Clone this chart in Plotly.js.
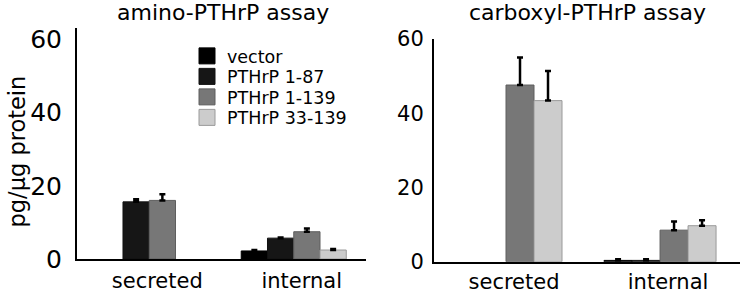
<!DOCTYPE html>
<html>
<head>
<meta charset="utf-8">
<script src="https://cdn.plot.ly/plotly-3.0.1.min.js"></script>
<style>html,body{margin:0;padding:0;background:#fff;}#chart{width:742px;height:293px;}</style>
</head>
<body>
<div id="chart"></div>
<script>
// ---- data ----
const categories = ['secreted', 'internal'];
const seriesNames = ['vector', 'PTHrP 1-87', 'PTHrP 1-139', 'PTHrP 33-139'];
const seriesColors = ['#000000', '#161616', '#777777', '#cccccc'];
const seriesLines = ['#000000', '#111111', '#5e5e5e', '#9a9a9a'];

// amino-PTHrP assay (pg/µg protein)
const aminoVector   = [null, 2.2];
const aminoP1_87    = [15.6, 5.7];
const aminoP1_139   = [16.0, 7.45];
const aminoP33_139  = [null, 2.45];
const aminoVectorErr  = [null, 0.25];
const aminoP1_87Err   = [0.7, 0.2];
const aminoP1_139Err  = [1.7, 0.85];
const aminoP33_139Err = [null, 0.25];

// carboxyl-PTHrP assay (pg/µg protein)
const carbVector   = [null, 0.35];
const carbP1_87    = [null, 0.35];
const carbP1_139   = [47.6, 8.5];
const carbP33_139  = [43.4, 9.7];
const carbVectorErr  = [null, 0.3];
const carbP1_87Err   = [null, 0.3];
const carbP1_139Err  = [7.4, 2.3];
const carbP33_139Err = [8.0, 1.5];

const panelTitles = ['amino-PTHrP assay', 'carboxyl-PTHrP assay'];
const yTitle = 'pg/µg protein';
const yTicks = [0, 20, 40, 60];

// ---- build traces ----
const aminoVals = [aminoVector, aminoP1_87, aminoP1_139, aminoP33_139];
const aminoErrs = [aminoVectorErr, aminoP1_87Err, aminoP1_139Err, aminoP33_139Err];
const carbVals = [carbVector, carbP1_87, carbP1_139, carbP33_139];
const carbErrs = [carbVectorErr, carbP1_87Err, carbP1_139Err, carbP33_139Err];

function mkTrace(i, vals, errs, xa, ya) {
  return {
    type: 'bar', name: seriesNames[i], x: categories, y: vals,
    xaxis: xa, yaxis: ya, showlegend: false,
    marker: {color: seriesColors[i], line: {color: seriesLines[i], width: 1}},
    error_y: {type: 'data', symmetric: false, array: errs,
              arrayminus: errs.map(() => 0), color: '#000', thickness: 2.5, width: 3},
    hoverinfo: 'skip'
  };
}
const traces = [];
for (let i = 0; i < 4; i++) traces.push(mkTrace(i, aminoVals[i], aminoErrs[i], 'x', 'y'));
for (let i = 0; i < 4; i++) traces.push(mkTrace(i, carbVals[i], carbErrs[i], 'x2', 'y2'));
// legend entries (one legend per row so row spacing can follow the reference)
const legendIds = ['legend', 'legend2', 'legend3', 'legend4'];
for (let i = 0; i < 4; i++) {
  traces.push({
    type: 'scatter', mode: 'markers', name: seriesNames[i], x: [null], y: [null],
    xaxis: 'x', yaxis: 'y', showlegend: true, legend: legendIds[i],
    marker: {symbol: 'square', size: 16, color: seriesColors[i],
             line: {color: seriesLines[i], width: 1}},
    hoverinfo: 'skip'
  });
}

const W = 742, H = 293;
const font = 'DejaVu Sans, Verdana, sans-serif';
const rowY = [56, 76.5, 97, 117.5];
function mkLegend(k) {
  return {x: 187 / W, xanchor: 'left', y: 1 - rowY[k] / H, yanchor: 'middle',
          font: {size: 17.5, family: font, color: '#000'},
          bgcolor: 'rgba(0,0,0,0)', itemclick: false, itemdoubleclick: false};
}

const layout = {
  width: W, height: H,
  margin: {l: 0, r: 0, t: 0, b: 0},
  paper_bgcolor: '#fff', plot_bgcolor: '#fff',
  font: {family: font, color: '#000'},
  barmode: 'group', bargap: 0.273, bargroupgap: 0,
  showlegend: true,
  legend: mkLegend(0), legend2: mkLegend(1), legend3: mkLegend(2), legend4: mkLegend(3),
  xaxis: {domain: [77 / W, 366 / W], range: [-0.5, 1.5], type: 'category',
          showline: true, linecolor: '#000', linewidth: 2, showgrid: false, zeroline: false,
          ticks: '', tickfont: {size: 21, family: font}, ticklabelshift: 8, ticklabelstandoff: 2,
          anchor: 'y', fixedrange: true},
  yaxis: {domain: [(H - 259) / H, (H - 28.3) / H], range: [0, 63],
          tickvals: yTicks, showline: true, linecolor: '#000', linewidth: 2,
          showgrid: false, zeroline: false, ticks: '', tickfont: {size: 25, family: font},
          ticklabelstandoff: 8,
          anchor: 'x', fixedrange: true},
  xaxis2: {domain: [434 / W, 740 / W], range: [-0.4675, 1.519], type: 'category',
          showline: true, linecolor: '#000', linewidth: 2, showgrid: false, zeroline: false,
          ticks: '', tickfont: {size: 21, family: font}, ticklabelshift: 8, ticklabelstandoff: 0,
          anchor: 'y2', fixedrange: true},
  yaxis2: {domain: [(H - 261.7) / H, (H - 39) / H], range: [0, 60],
          tickvals: yTicks, showline: true, linecolor: '#000', linewidth: 2,
          showgrid: false, zeroline: false, ticks: '', tickfont: {size: 21, family: font},
          ticklabelstandoff: 4,
          anchor: 'x2', fixedrange: true},
  annotations: [
    {text: panelTitles[0], xref: 'paper', yref: 'paper', x: 222.5 / W, y: 1 - 13 / H,
     xanchor: 'center', yanchor: 'middle', showarrow: false, font: {size: 22, family: font}},
    {text: panelTitles[1], xref: 'paper', yref: 'paper', x: 587.5 / W, y: 1 - 13 / H,
     xanchor: 'center', yanchor: 'middle', showarrow: false, font: {size: 22, family: font}},
    {text: yTitle, xref: 'paper', yref: 'paper', x: 16 / W, y: 1 - 151.5 / H,
     xanchor: 'center', yanchor: 'middle', textangle: -90, showarrow: false,
     font: {size: 22.5, family: font}}
  ]
};

Plotly.newPlot('chart', traces, layout, {staticPlot: true, displayModeBar: false});
</script>
</body>
</html>
